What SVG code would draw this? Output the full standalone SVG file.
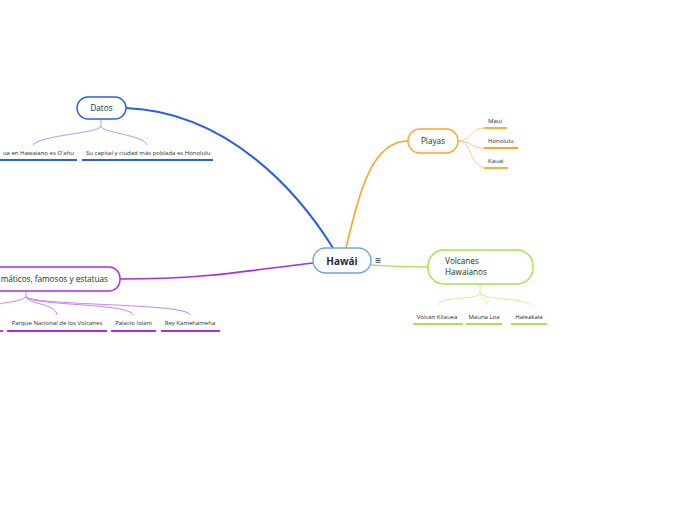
<svg xmlns="http://www.w3.org/2000/svg" width="696" height="520" viewBox="0 0 696 520">
<style>
text{font-family:"Open Sans","Liberation Sans",sans-serif}
.node{fill:#fff;stroke-width:1.4}
.nt{font-size:8.2px;fill:#173324}
.ct{font-size:6px;fill:#2a2a2a}
.ul{stroke-width:1.8;fill:none;stroke-linecap:butt}
.br{fill:none;stroke-width:1}
.main{fill:none;stroke-linecap:round}
</style>
<rect width="696" height="520" fill="#fff"/>
<g id="connectors">
<path class="main" d="M126,108 C230,112 300,195 333,248" stroke="#2a5ef0" stroke-width="2"/>
<path class="main" d="M346,248 C360,190 372,141 408,141" stroke="#ffa21f" stroke-width="1.6"/>
<path class="main" d="M120,279 C210,279 250,270 313,263" stroke="#a62cf0" stroke-width="1.6"/>
<path class="main" d="M371,265 C390,266 405,267 428,267" stroke="#9be84a" stroke-width="1.4"/>
<g stroke="#94aaf5" class="br">
<path d="M101,119 V126 C101,133 40,135 33,145"/>
<path d="M101,126 C101,133 145,135 147,145"/>
</g>
<g stroke="#ffcc80" class="br">
<path d="M458,141 C472,141 470,128 484,128"/>
<path d="M458,141 C472,141 470,148 484,148"/>
<path d="M458,141 C472,141 470,167 484,167"/>
</g>
<g stroke="#c6f595" class="br">
<path d="M480,284 V293 C480,300 440,296 438,305"/>
<path d="M480,293 C482,298 487,300 487,305"/>
<path d="M480,293 C482,300 528,298 530,305"/>
</g>
<g stroke="#c981f5" class="br">
<path d="M26,291 V297 C20,302 5,302 0,304"/>
<path d="M26,297 C30,305 55,303 57,315"/>
<path d="M26,297 C35,306 130,303 133,315"/>
<path d="M26,297 C40,306 188,303 190,315"/>
</g>
</g>
<g id="hawai">
<rect class="node" x="313" y="248" width="58" height="25" rx="12.5" stroke="#6aa8e0"/>
<text x="342" y="264.5" text-anchor="middle" font-size="10" font-weight="bold" fill="#1b2a4c">Hawái</text>
<g stroke="#33415c" stroke-width="0.9"><line x1="375.5" y1="258.7" x2="380.5" y2="258.7"/><line x1="375.5" y1="260.5" x2="380.5" y2="260.5"/><line x1="375.5" y1="262.3" x2="380.5" y2="262.3"/></g>
</g>
<g id="datos">
<rect class="node" x="77" y="97" width="49" height="22" rx="11" stroke="#2a5ef0"/>
<text class="nt" x="101.5" y="111" text-anchor="middle">Datos</text>
</g>
<g id="datos-1">
<text class="ct" x="74" y="155" text-anchor="end">ua en Hawaiano es O'ahu</text>
<line class="ul" x1="0" y1="160" x2="77" y2="160" stroke="#2a5ef0"/>
</g>
<g id="datos-2">
<text class="ct" x="86" y="155">Su capital y ciudad más poblada es Honolulu</text>
<line class="ul" x1="82" y1="160" x2="213" y2="160" stroke="#2a5ef0"/>
</g>
<g id="playas">
<rect class="node" x="408" y="129" width="50" height="24" rx="12" stroke="#ffa21f"/>
<text class="nt" x="433" y="144" text-anchor="middle">Playas</text>
</g>
<g id="maui">
<text class="ct" x="488" y="123">Maui</text>
<line class="ul" x1="484" y1="128" x2="507" y2="128" stroke="#ffa21f"/>
</g>
<g id="honolulu">
<text class="ct" x="488" y="143">Honolulu</text>
<line class="ul" x1="484" y1="148" x2="518" y2="148" stroke="#ffa21f"/>
</g>
<g id="kauai">
<text class="ct" x="488" y="163">Kauai</text>
<line class="ul" x1="484" y1="168" x2="508" y2="168" stroke="#ffa21f"/>
</g>
<g id="volcanes">
<rect class="node" x="428" y="250" width="105" height="34" rx="16" stroke="#9be84a"/>
<text class="nt" x="445" y="264">Volcanes</text>
<text class="nt" x="445" y="275">Hawaianos</text>
</g>
<g id="kilauea">
<text class="ct" x="437" y="318.5" text-anchor="middle">Volcán Kilauea</text>
<line class="ul" x1="413" y1="324" x2="463" y2="324" stroke="#9be84a"/>
</g>
<g id="maunaloa">
<text class="ct" x="484" y="318.5" text-anchor="middle">Mauna Loa</text>
<line class="ul" x1="466" y1="324" x2="502" y2="324" stroke="#9be84a"/>
</g>
<g id="haleakala">
<text class="ct" x="529" y="318.5" text-anchor="middle">Haleakala</text>
<line class="ul" x1="511" y1="324" x2="547" y2="324" stroke="#9be84a"/>
</g>
<g id="lugares">
<rect class="node" x="-40" y="267" width="160" height="24" rx="11" stroke="#a62cf0"/>
<text class="nt" x="108" y="282" text-anchor="end">máticos, famosos y estatuas</text>
</g>
<g id="lugares-0">
<line class="ul" x1="0" y1="331" x2="3" y2="331" stroke="#a62cf0"/>
</g>
<g id="parque">
<text class="ct" x="57" y="325" text-anchor="middle">Parque Nacional de los Volcanes</text>
<line class="ul" x1="7" y1="331" x2="107" y2="331" stroke="#a62cf0"/>
</g>
<g id="palacio">
<text class="ct" x="133.5" y="325" text-anchor="middle">Palacio Iolani</text>
<line class="ul" x1="111" y1="331" x2="156" y2="331" stroke="#a62cf0"/>
</g>
<g id="rey">
<text class="ct" x="190" y="325" text-anchor="middle">Rey Kamehameha</text>
<line class="ul" x1="161" y1="331" x2="220" y2="331" stroke="#a62cf0"/>
</g>
</svg>
